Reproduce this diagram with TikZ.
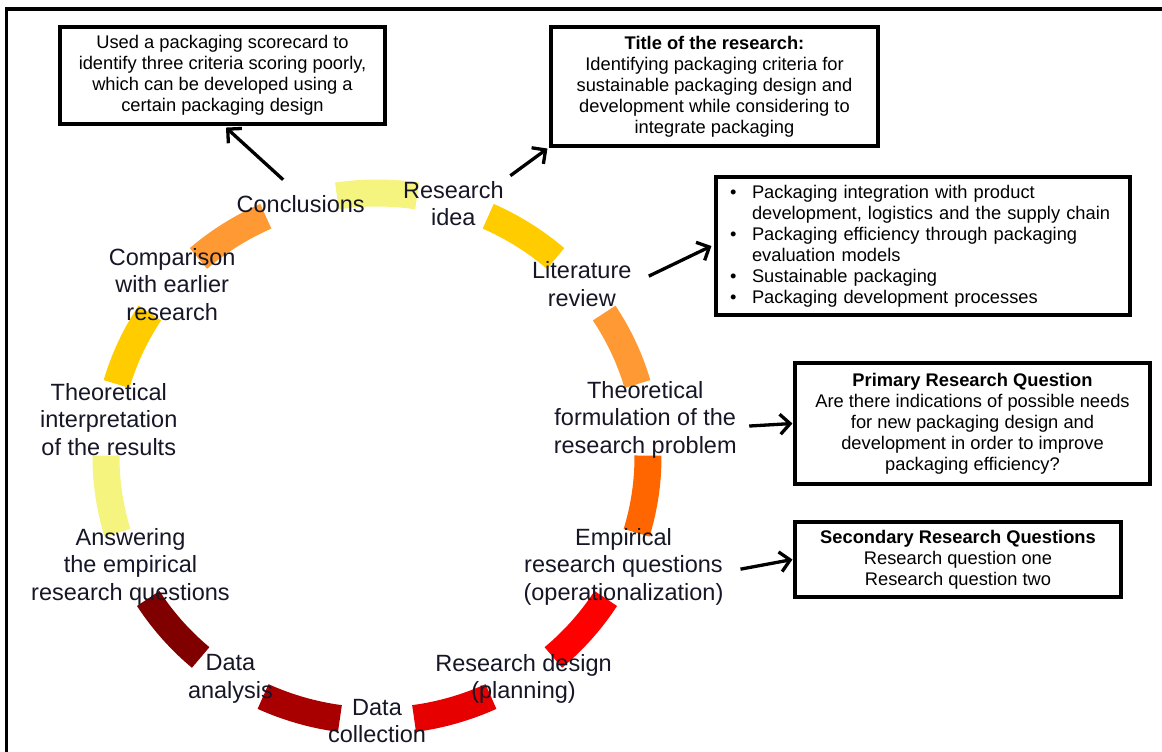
\documentclass[tikz,border=0pt]{standalone}
\usepackage{fontspec}
\setmainfont{Liberation Sans}
\usetikzlibrary{arrows.meta}

% colours of the cycle
\definecolor{segYellow}{HTML}{F4F47E}
\definecolor{segGold}{HTML}{FFCC00}
\definecolor{segOrange}{HTML}{FF9933}
\definecolor{segOrangeRed}{HTML}{FF6600}
\definecolor{segRed}{HTML}{FF0000}
\definecolor{segRedDark}{HTML}{E60000}
\definecolor{segCrimson}{HTML}{A80000}
\definecolor{segMaroon}{HTML}{800000}
\definecolor{lblText}{HTML}{161626}

\tikzset{
  box/.style={draw, line width=3.1pt, align=center, inner sep=0pt,
    font=\fontsize{18.3}{21}\selectfont},
  lbl/.style={align=center, inner sep=0pt, text=lblText,
    font=\fontsize{23.5}{27.5}\selectfont},
  seg/.style={line width=27pt, line cap=butt},
  conn/.style={-{Straight Barb[length=10pt,width=20pt]}, line width=3.3pt},
}

\begin{document}
\begin{tikzpicture}[x=1pt, y=-1pt, line join=miter]
  \useasboundingbox (0,0) rectangle (1162,752);

  % parameters of the cycle (pixel units, y downwards)
  \def\cx{377} \def\cy{457}
  \def\rx{271} \def\ry{264}
  \def\stp{32.7273} \def\half{8.5}

  % outer frame
  \draw[line width=3.1pt] (6.5,9) rectangle (1180,770);

  % the eleven coloured segments
  \foreach \c [count=\k from 0] in {segYellow,segGold,segOrange,segOrangeRed,segRed,
      segRedDark,segCrimson,segMaroon,segYellow,segGold,segOrange}{
    \pgfmathsetmacro{\ta}{-90+\k*\stp-\half}
    \pgfmathsetmacro{\tb}{-90+\k*\stp+\half}
    \draw[seg, \c] ({\cx+\rx*cos(\ta)},{\cy+\ry*sin(\ta)})
      arc[start angle=\ta, end angle=\tb, x radius=\rx, y radius=\ry];
  }

  % the steps of the research
  \foreach \txt [count=\k from 0] in {{Research\\idea},{Literature\\review},
      {Theoretical\\formulation of the\\research problem},
      {Empirical\\research questions\\(operationalization)},
      {Research design\\(planning)},{Data\\collection},{Data\\analysis},
      {Answering\\the empirical\\research questions},
      {Theoretical\\interpretation\\of the results},
      {Comparison\\with earlier\\research},{Conclusions}}{
    \pgfmathsetmacro{\tm}{-90+(\k+0.5)*\stp}
    \node[lbl] (l\k) at ({\cx+\rx*cos(\tm)},{\cy+\ry*sin(\tm)}) {\txt};
  }

  % boxes
  \node[box, minimum width=325pt, minimum height=97pt] (score) at (222.5,75.5)
    {Used a packaging scorecard to\\identify three criteria scoring poorly,\\
     which can be developed using a\\certain packaging design};
  \node[box, minimum width=327pt, minimum height=119pt] (title) at (714.5,86.5)
    {\textbf{Title of the research:}\\Identifying packaging criteria for\\
     sustainable packaging design and\\development while considering to\\
     integrate packaging};
  \node[box, minimum width=414pt, minimum height=138pt, text width=386pt,
    inner xsep=14pt, align=left] (topics) at (923,246)
    {\makebox[22pt][l]{\textbullet}Packaging integration with product\\
     \hspace*{22pt}development, logistics and the supply chain\\
     \makebox[22pt][l]{\textbullet}Packaging efficiency through packaging\\
     \hspace*{22pt}evaluation models\\
     \makebox[22pt][l]{\textbullet}Sustainable packaging\\
     \makebox[22pt][l]{\textbullet}Packaging development processes};
  \node[box, minimum width=355pt, minimum height=121pt] (primary) at (972.5,423.5)
    {\textbf{Primary Research Question}\\Are there indications of possible needs\\
     for new packaging design and\\development in order to improve\\
     packaging efficiency?};
  \node[box, minimum width=326pt, minimum height=75pt] (secondary) at (958,559.5)
    {\textbf{Secondary Research Questions}\\Research question one\\Research question two};

  % arrows from the steps to the boxes
  \draw[conn] ([shift={(-17.5,-24)}]l10.center) -- ([shift={(3.5,2)}]score.south);
  \draw[conn] ([shift={(57,-28)}]l0.center) -- ([shift={(-2,1)}]title.south west);
  \draw[conn] ([shift={(67,-8)}]l1.center) -- ([xshift=-3]topics.west);
  \draw[conn] ([shift={(104,6.6)}]l2.center) -- ([xshift=-1]primary.west);
  \draw[conn] ([shift={(117,2.5)}]l3.center) -- ([xshift=-1]secondary.west);

\end{tikzpicture}
\end{document}
